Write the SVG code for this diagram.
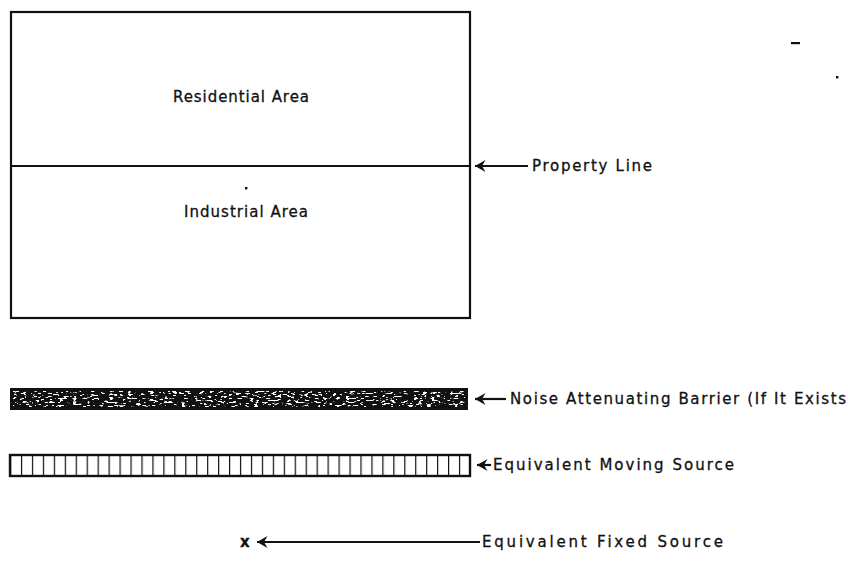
<svg xmlns="http://www.w3.org/2000/svg" width="848" height="563" viewBox="0 0 848 563">
  <style>
    .frame { fill: none; stroke: #111; stroke-width: 2.2; }
    .lead { stroke: #111; stroke-width: 2.2; fill: none; marker-start: url(#head); }
    .lbl { font-family: "DejaVu Sans", "Liberation Sans", sans-serif; font-size: 15px; fill: #111; stroke: #111; stroke-width: 0.3; }
  </style>
  <defs>
    <marker id="head" viewBox="0 0 11 12" refX="0" refY="6" markerWidth="11" markerHeight="12" markerUnits="userSpaceOnUse" orient="auto">
      <path d="M0,6 L10.5,0 L7,6 L10.5,12 Z" fill="#111"/>
    </marker>
    <!-- white speckle texture for the barrier strip -->
    <filter id="speckle" x="0" y="0" width="1" height="1">
      <feTurbulence type="fractalNoise" baseFrequency="0.22 0.55" numOctaves="2" seed="11" result="n"/>
      <feColorMatrix in="n" type="matrix" values="0 0 0 0 1  0 0 0 0 1  0 0 0 0 1  14 0 0 0 -8.1"/>
    </filter>
    <!-- cell dividers of the moving source strip -->
    <pattern id="cells" patternUnits="userSpaceOnUse" x="10" y="0" width="10.95" height="40">
      <line x1="0" y1="0" x2="0" y2="40" stroke="#111" stroke-width="2.4"/>
    </pattern>
  </defs>

  <!-- site plan: residential and industrial areas split by the property line -->
  <g id="site">
    <rect class="frame" x="11" y="12" width="459" height="306"/>
    <line x1="11" y1="166" x2="470" y2="166" stroke="#111" stroke-width="2"/>
    <text class="lbl" x="173" y="102" textLength="136" lengthAdjust="spacing">Residential Area</text>
    <rect x="245" y="187" width="2.4" height="2.4" fill="#111"/>
    <text class="lbl" x="184" y="217" textLength="124" lengthAdjust="spacing">Industrial Area</text>
  </g>

  <!-- noise attenuating barrier -->
  <g id="barrier">
    <rect x="10" y="388" width="458" height="22" fill="#111"/>
    <rect x="13" y="391" width="452" height="16" filter="url(#speckle)"/>
  </g>

  <!-- equivalent moving source -->
  <g id="moving-source">
    <rect x="10" y="455" width="460" height="21" fill="url(#cells)" stroke="#111" stroke-width="2.4"/>
  </g>

  <!-- equivalent fixed source -->
  <g id="fixed-source">
    <text class="lbl" x="240" y="547" font-weight="bold">x</text>
  </g>

  <!-- stray marks -->
  <g id="marks" fill="#111">
    <rect x="791" y="42" width="9" height="2.2"/>
    <rect x="836" y="76" width="2.4" height="2.4"/>
  </g>

  <!-- leaders -->
  <g id="leaders">
    <line class="lead" x1="475" y1="166" x2="528" y2="166"/>
    <line class="lead" x1="475" y1="399" x2="506" y2="399"/>
    <line class="lead" x1="477" y1="465" x2="491" y2="465"/>
    <line class="lead" x1="257" y1="542" x2="480" y2="542"/>
  </g>

  <!-- legend labels -->
  <g id="labels">
    <text class="lbl" x="532" y="171" textLength="120" lengthAdjust="spacing">Property Line</text>
    <text class="lbl" x="510" y="404" textLength="336" lengthAdjust="spacing">Noise Attenuating Barrier (If It Exists</text>
    <text class="lbl" x="493" y="470" textLength="241" lengthAdjust="spacing">Equivalent Moving Source</text>
    <text class="lbl" x="482" y="547" textLength="241" lengthAdjust="spacing">Equivalent Fixed Source</text>
  </g>
</svg>
